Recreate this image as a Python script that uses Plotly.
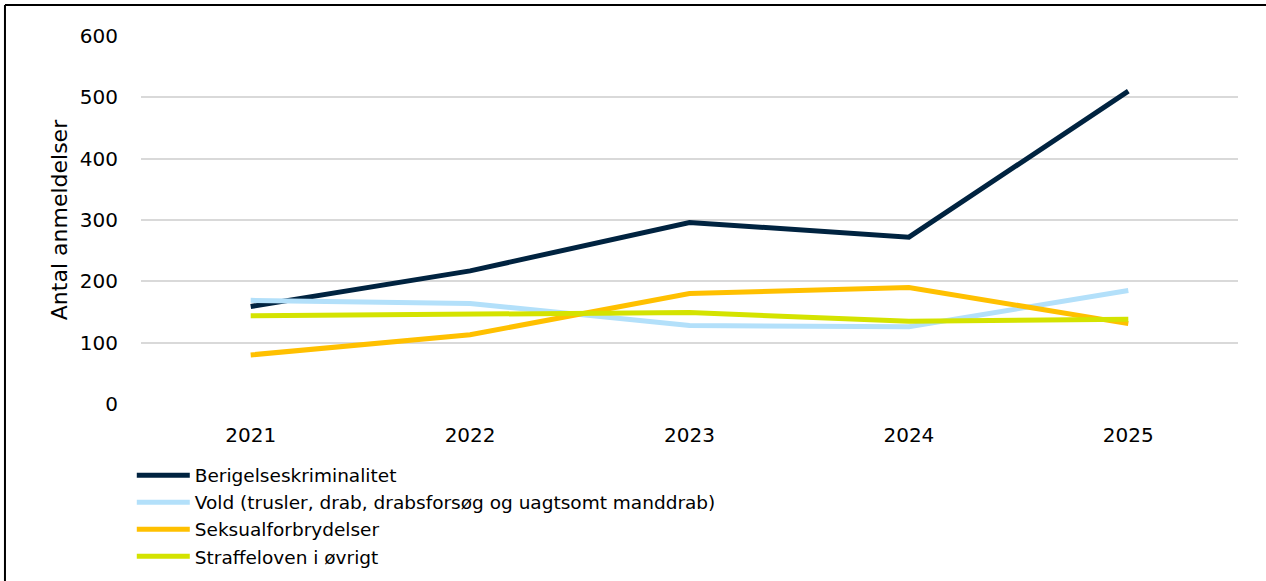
import plotly.graph_objects as go

aar = ["2021", "2022", "2023", "2024", "2025"]

berigelse = [159, 217, 296, 272, 510]
vold = [169, 164, 128, 126, 185]
seksual = [80, 113, 180, 190, 131]
straffeloven = [144, 147, 149, 135, 138]

serier = [
    ("Berigelseskriminalitet", berigelse, "#002340"),
    ("Vold (trusler, drab, drabsforsøg og uagtsomt manddrab)", vold, "#B3E0FA"),
    ("Seksualforbrydelser", seksual, "#FFC000"),
    ("Straffeloven i øvrigt", straffeloven, "#D4E300"),
]

y_ticks = [0, 100, 200, 300, 400, 500, 600]

fig = go.Figure()
for navn, vaerdier, farve in serier:
    fig.add_trace(
        go.Scatter(
            x=aar,
            y=vaerdier,
            name=navn,
            mode="lines",
            line={"color": farve, "width": 5},
        )
    )

# ramme: kun top- og venstrekant er synlige i udsnittet
ramme = dict(xref="paper", yref="paper", type="line", line={"color": "black", "width": 2}, layer="below")

fig.update_layout(
    width=1300,
    height=581,
    margin={"l": 141, "r": 62, "t": 36, "b": 177, "autoexpand": False},
    paper_bgcolor="white",
    plot_bgcolor="white",
    font={"family": "DejaVu Sans, sans-serif", "size": 20, "color": "#000000"},
    showlegend=True,
    legend={
        "x": -0.0084,
        "y": -0.143,
        "xanchor": "left",
        "yanchor": "top",
        "orientation": "v",
        "itemwidth": 53,
        "tracegroupgap": 0,
        "bgcolor": "rgba(0,0,0,0)",
        "font": {"size": 18.5},
    },
    xaxis={
        "type": "category",
        "range": [-0.5, 4.5],
        "showgrid": False,
        "showline": False,
        "ticks": "",
        "ticklabelstandoff": 17,
    },
    yaxis={
        "range": [0, 600],
        "tickvals": y_ticks,
        "showgrid": True,
        "gridcolor": "#D9D9D9",
        "gridwidth": 1.5,
        "zeroline": False,
        "showline": False,
        "ticks": "",
        "ticklabelstandoff": 22,
        "title": {"text": "Antal anmeldelser", "standoff": 6, "font": {"size": 22}},
    },
    shapes=[
        dict(ramme, x0=-0.124, x1=-0.124, y0=-0.7, y1=1.0842),
        dict(ramme, x0=-0.124, x1=1.2, y0=1.0842, y1=1.0842),
    ],
)

fig.write_html(
    "out.html",
    config={"displayModeBar": False},
    post_script=(
        "document.body.style.margin = '0';"
        "document.body.style.overflow = 'hidden';"
        "document.documentElement.style.overflow = 'hidden';"
    ),
)
